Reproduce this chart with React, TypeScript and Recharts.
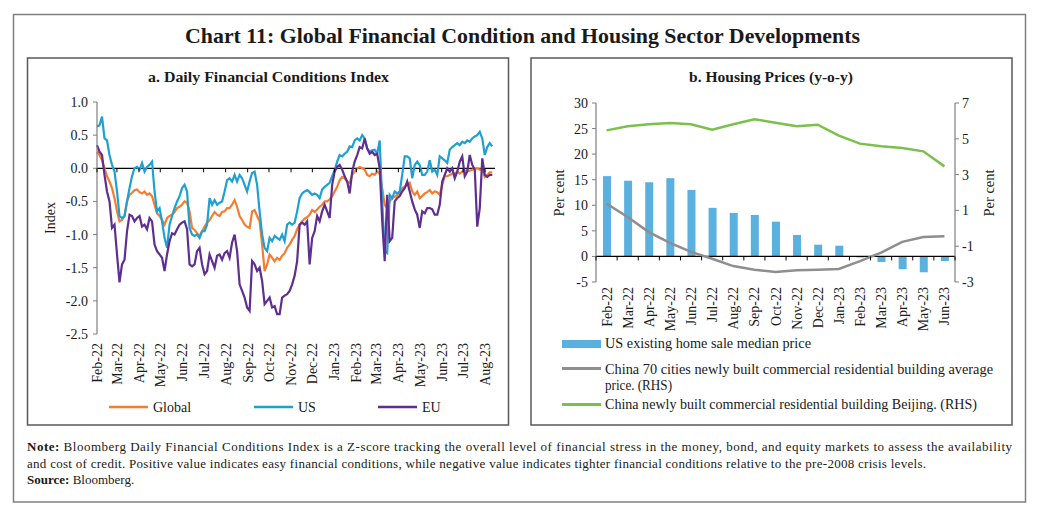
import { Bar, ComposedChart, Line, LineChart, ReferenceLine, XAxis, YAxis } from 'recharts'

const FONT = '"Liberation Serif", "Times New Roman", serif'
const TEXT = '#1a1a1a'
const AXIS = '#7f7f7f'

// a. Daily Financial Conditions Index, read off roughly twice a week from 1 Feb 2022
const fciStart = Date.UTC(2022, 1, 1)
const fciStepDays = 3.52

const globalFci = [
  0.25, 0.2, 0.12, 0.0, -0.12, -0.2, -0.3, -0.45, -0.65, -0.8, -0.78, -0.72, -0.5, -0.4, -0.37, -0.33, -0.32, -0.36, -0.38, -0.35,
  -0.4, -0.38, -0.42, -0.55, -0.68, -0.72, -0.78, -0.85, -0.75, -0.72, -0.7, -0.66, -0.6, -0.58, -0.55, -0.5, -0.52, -0.65, -0.9, -0.93,
  -0.98, -1.02, -0.95, -0.88, -0.82, -0.78, -0.72, -0.66, -0.7, -0.72, -0.66, -0.65, -0.6, -0.6, -0.55, -0.48, -0.58, -0.72, -0.78, -0.85,
  -0.88, -0.9, -0.65, -0.63, -0.72, -0.8, -1.15, -1.55, -1.45, -1.3, -1.35, -1.4, -1.35, -1.38, -1.32, -1.28, -1.2, -1.15,
  -1.08, -1.02, -0.92, -0.85, -0.8, -0.76, -0.74, -0.7, -0.63, -0.66, -0.62, -0.58, -0.55, -0.5, -0.5, -0.47, -0.42, -0.35, -0.28, -0.18,
  -0.13, -0.15, -0.2, -0.22, -0.1, -0.05, 0.0, 0.02, 0.0, -0.02, -0.1, -0.12, -0.08, -0.1, -0.05, -0.08, -0.3, -0.55,
  -0.6, -0.5, -0.45, -0.43, -0.4, -0.38, -0.3, -0.28, -0.25, -0.22, -0.35, -0.4, -0.35, -0.45, -0.42, -0.38, -0.36, -0.33, -0.38, -0.35,
  -0.36, -0.4, -0.25, -0.12, -0.12, -0.1, -0.08, -0.08, -0.05, -0.08, -0.05, -0.04, -0.03, -0.04, -0.02, -0.01, 0.0, -0.02, -0.02, -0.13,
  -0.1, -0.06, -0.06,
]

const usFci = [
  0.63, 0.65, 0.78, 0.45, 0.42, 0.2, 0.05, -0.05, -0.35, -0.72, -0.75, -0.72, -0.5, -0.3, -0.12, 0.0, 0.02, -0.02, 0.08, -0.05,
  0.02, 0.05, 0.1, -0.35, -0.65, -0.6, -0.8, -1.05, -1.2, -0.85, -0.72, -0.6, -0.5, -0.42, -0.3, -0.25, -0.35, -0.9, -1.0, -1.02,
  -1.0, -1.05, -0.95, -0.95, -0.85, -0.45, -0.55, -0.48, -0.55, -0.52, -0.5, -0.35, -0.18, -0.15, -0.2, -0.1, -0.2, -0.1, -0.15, -0.25,
  -0.35, -0.2, -0.07, -0.05, -0.25, -0.65, -1.0, -1.2, -1.25, -1.05, -1.1, -1.02, -1.05, -1.08, -1.0, -1.1, -0.85, -0.82,
  -0.85, -0.82, -0.65, -0.45, -0.38, -0.35, -0.33, -0.36, -0.4, -0.38, -0.4, -0.45, -0.32, -0.28, -0.25, -0.22, -0.12, -0.03, 0.1, 0.2,
  0.18, 0.22, 0.25, 0.33, 0.32, 0.42, 0.45, 0.42, 0.5, 0.45, 0.3, 0.25, 0.27, 0.28, 0.22, 0.42, -0.5, -1.25,
  -1.28, -0.4, -0.45, -0.35, -0.38, -0.35, -0.1, 0.18, 0.18, 0.15, -0.15, 0.05, 0.1, 0.05, -0.1, -0.1, -0.05, 0.12, -0.05, -0.02,
  -0.1, 0.18, 0.15, 0.12, 0.08, 0.28, 0.32, 0.35, 0.38, 0.35, 0.4, 0.38, 0.42, 0.4, 0.45, 0.48, 0.5, 0.55, 0.45, 0.2,
  0.32, 0.38, 0.33,
]

const euFci = [
  0.35, 0.25, 0.2, -0.1, -0.35, -0.5, -0.9, -0.85, -1.3, -1.72, -1.45, -1.38, -0.95, -0.7, -0.72, -0.8, -0.75, -0.72, -0.88, -0.85,
  -0.92, -0.75, -0.8, -1.15, -1.25, -1.3, -1.35, -1.55, -1.3, -1.1, -0.98, -1.0, -0.92, -0.85, -0.82, -0.8, -0.92, -1.45, -1.48, -1.45,
  -1.25, -1.2, -1.45, -1.6, -1.55, -1.3, -1.4, -1.5, -1.32, -1.3, -1.38, -1.28, -1.25, -1.35, -1.12, -1.0, -1.25, -1.75, -1.85, -1.95,
  -2.1, -2.15, -1.4, -1.45, -1.55, -1.5, -1.7, -2.05, -2.0, -1.95, -2.1, -2.08, -2.2, -2.2, -1.95, -1.92, -1.9, -1.85,
  -1.75, -1.62, -1.4, -0.85, -0.82, -0.85, -0.8, -1.45, -1.05, -0.95, -0.72, -0.8, -0.65, -0.55, -0.65, -0.75, -0.25, -0.05, 0.02, 0.05,
  -0.02, -0.12, -0.2, -0.38, -0.05, 0.1, 0.2, 0.32, 0.3, 0.45, 0.3, 0.22, 0.25, 0.2, 0.22, 0.0, -0.8, -1.4,
  -0.4, -1.1, -1.05, -0.5, -0.45, -0.42, -0.35, -0.3, -0.2, -0.35, -0.5, -0.62, -0.7, -0.9, -0.65, -0.68, -0.6, -0.6, -0.62, -0.7,
  -0.7, -0.55, -0.2, -0.1, 0.0, -0.05, 0.0, -0.15, -0.05, 0.1, 0.18, -0.12, -0.05, 0.2, 0.05, -0.02, -0.88, -0.6, 0.15, -0.1,
  -0.13, -0.1, -0.1,
]

const fciMonths = [
  'Feb-22', 'Mar-22', 'Apr-22', 'May-22', 'Jun-22', 'Jul-22', 'Aug-22', 'Sep-22', 'Oct-22', 'Nov-22',
  'Dec-22', 'Jan-23', 'Feb-23', 'Mar-23', 'Apr-23', 'May-23', 'Jun-23', 'Jul-23', 'Aug-23',
]
const fciYTicks = [1, 0.5, 0, -0.5, -1, -1.5, -2, -2.5]

// b. Housing Prices (y-o-y)
const housingMonths = [
  'Feb-22', 'Mar-22', 'Apr-22', 'May-22', 'Jun-22', 'Jul-22', 'Aug-22', 'Sep-22', 'Oct-22',
  'Nov-22', 'Dec-22', 'Jan-23', 'Feb-23', 'Mar-23', 'Apr-23', 'May-23', 'Jun-23',
]
const usHomePrice = [15.7, 14.8, 14.5, 15.3, 13.0, 9.5, 8.5, 8.1, 6.8, 4.2, 2.3, 2.1, -0.2, -1.1, -2.5, -3.1, -0.9]
const china70Cities = [1.38, 0.63, -0.21, -0.82, -1.32, -1.7, -2.11, -2.31, -2.44, -2.35, -2.31, -2.27, -1.83, -1.36, -0.76, -0.49, -0.45]
const beijingPrice = [5.47, 5.7, 5.81, 5.88, 5.81, 5.51, 5.81, 6.09, 5.9, 5.7, 5.79, 5.18, 4.73, 4.58, 4.49, 4.3, 3.46]
const housingLeftTicks = [-5, 0, 5, 10, 15, 20, 25, 30]
const housingRightTicks = [-3, -1, 1, 3, 5, 7]

const MONTH_INDEX: Record<string, number> = {
  Jan: 0, Feb: 1, Mar: 2, Apr: 3, May: 4, Jun: 5, Jul: 6, Aug: 7, Sep: 8, Oct: 9, Nov: 10, Dec: 11,
}
const dayOffset = (label: string) => {
  const [m, y] = label.split('-')
  return (Date.UTC(2000 + Number(y), MONTH_INDEX[m], 1) - fciStart) / 86400000
}
const fciTickDays = fciMonths.map(dayOffset)

const fciData = usFci.map((_, i) => ({
  day: i * fciStepDays,
  global: globalFci[i],
  us: usFci[i],
  eu: euFci[i],
}))

const housingData = housingMonths.map((month, i) => ({
  month,
  us: usHomePrice[i],
  china70: china70Cities[i],
  beijing: beijingPrice[i],
}))

const COLORS = {
  global: '#F47D30',
  us: '#1FA0D3',
  eu: '#5E2E91',
  bar: '#5AB0DE',
  china70: '#8E8E8E',
  beijing: '#7BC04A',
}

// plot geometry of panel a
const FCI_PLOT_H = 232
const FCI_ZERO_FROM_BOTTOM = (FCI_PLOT_H * 2.5) / 3.5

function FciTick(props: any) {
  const { x, y, payload } = props
  const label = fciMonths[fciTickDays.indexOf(payload.value)]
  const zeroY = y - FCI_ZERO_FROM_BOTTOM
  return (
    <g>
      <line x1={x} x2={x} y1={zeroY} y2={zeroY + 4} stroke="#000" strokeWidth={1} />
      <text
        transform={`translate(${x + 5},${y + 9}) rotate(-90)`}
        textAnchor="end"
        fontSize={14}
        fill={TEXT}
        fontFamily={FONT}
      >
        {label}
      </text>
    </g>
  )
}

// plot geometry of panel b
const HOUSING_PLOT_W = 359
const HOUSING_PLOT_H = 179
const HOUSING_ZERO_FROM_BOTTOM = (HOUSING_PLOT_H * 5) / 35
const HOUSING_BAND = HOUSING_PLOT_W / 17

function HousingTick(props: any) {
  const { x, y, payload, index } = props
  const zeroY = y - HOUSING_ZERO_FROM_BOTTOM
  const left = x - HOUSING_BAND / 2
  return (
    <g>
      <line x1={left} x2={left} y1={zeroY} y2={zeroY + 4} stroke="#000" strokeWidth={1} />
      {index === housingMonths.length - 1 && (
        <line x1={left + HOUSING_BAND} x2={left + HOUSING_BAND} y1={zeroY} y2={zeroY + 4} stroke="#000" strokeWidth={1} />
      )}
      <text
        transform={`translate(${x + 5},${y + 5}) rotate(-90)`}
        textAnchor="end"
        fontSize={14}
        fill={TEXT}
        fontFamily={FONT}
      >
        {payload.value}
      </text>
    </g>
  )
}

function FciChart() {
  return (
    <LineChart
      width={480}
      height={330}
      data={fciData}
      margin={{ top: 44, right: 13, bottom: 4, left: 29 }}
    >
      <XAxis
        dataKey="day"
        type="number"
        domain={[0, 560]}
        ticks={fciTickDays}
        interval={0}
        axisLine={false}
        tickLine={false}
        tickSize={0}
        tickMargin={0}
        height={50}
        tick={(p: any) => <FciTick {...p} />}
      />
      <YAxis
        domain={[-2.5, 1]}
        ticks={fciYTicks}
        interval={0}
        width={40}
        axisLine={{ stroke: AXIS, strokeWidth: 1.2 }}
        tickLine={{ stroke: AXIS }}
        tickSize={4}
        tickMargin={5}
        tickFormatter={(v: number) => v.toFixed(1)}
        tick={{ fontSize: 14, fill: TEXT, fontFamily: FONT }}
      />
      <ReferenceLine y={0} stroke="#000" strokeWidth={1.2} />
      <Line dataKey="global" stroke={COLORS.global} strokeWidth={2.2} dot={false} isAnimationActive={false} />
      <Line dataKey="us" stroke={COLORS.us} strokeWidth={2.2} dot={false} isAnimationActive={false} />
      <Line dataKey="eu" stroke={COLORS.eu} strokeWidth={2.2} dot={false} isAnimationActive={false} />
    </LineChart>
  )
}

function HousingChart() {
  return (
    <ComposedChart
      width={481}
      height={280}
      data={housingData}
      margin={{ top: 45, right: 17, bottom: 6, left: 25 }}
    >
      <XAxis
        dataKey="month"
        interval={0}
        axisLine={false}
        tickLine={false}
        tickSize={0}
        tickMargin={0}
        height={50}
        tick={(p: any) => <HousingTick {...p} />}
      />
      <YAxis
        yAxisId="left"
        domain={[-5, 30]}
        ticks={housingLeftTicks}
        interval={0}
        width={40}
        axisLine={{ stroke: AXIS, strokeWidth: 1.2 }}
        tickLine={{ stroke: AXIS }}
        tickSize={4}
        tickMargin={4}
        tick={{ fontSize: 14, fill: TEXT, fontFamily: FONT }}
      />
      <YAxis
        yAxisId="right"
        orientation="right"
        domain={[-3, 7]}
        ticks={housingRightTicks}
        interval={0}
        width={40}
        axisLine={{ stroke: AXIS, strokeWidth: 1.2 }}
        tickLine={{ stroke: AXIS }}
        tickSize={4}
        tickMargin={3}
        tick={{ fontSize: 14, fill: TEXT, fontFamily: FONT }}
      />
      <ReferenceLine yAxisId="left" y={0} stroke="#000" strokeWidth={1.2} />
      <Bar yAxisId="left" dataKey="us" fill={COLORS.bar} barSize={8} isAnimationActive={false} />
      <Line yAxisId="right" dataKey="china70" stroke={COLORS.china70} strokeWidth={2.5} dot={false} isAnimationActive={false} />
      <Line yAxisId="right" dataKey="beijing" stroke={COLORS.beijing} strokeWidth={2.5} dot={false} isAnimationActive={false} />
    </ComposedChart>
  )
}

function Overlay() {
  const t = { fontFamily: FONT, fill: TEXT }
  return (
    <svg width={1041} height={517} style={{ position: 'absolute', left: 0, top: 0 }}>
      <rect x={13.5} y={14.5} width={1012} height={487.5} fill="none" stroke="#808080" strokeWidth={1.5} />
      <rect x={27.5} y={58} width={481} height={367} fill="none" stroke="#595959" strokeWidth={1.5} />
      <rect x={531} y={58} width={481} height={367} fill="none" stroke="#595959" strokeWidth={1.5} />

      <text x={185} y={43} fontSize={21.5} fontWeight="bold" textLength={675} lengthAdjust="spacingAndGlyphs" {...t}>
        Chart 11: Global Financial Condition and Housing Sector Developments
      </text>
      <text x={148} y={82} fontSize={15.5} fontWeight="bold" textLength={241} lengthAdjust="spacingAndGlyphs" {...t}>
        a. Daily Financial Conditions Index
      </text>
      <text x={689} y={82} fontSize={15.5} fontWeight="bold" textLength={164} lengthAdjust="spacingAndGlyphs" {...t}>
        b. Housing Prices (y-o-y)
      </text>

      <text transform="translate(55,218) rotate(-90)" textAnchor="middle" fontSize={14} {...t}>
        Index
      </text>
      <text transform="translate(564,193) rotate(-90)" textAnchor="middle" fontSize={14.5} {...t}>
        Per cent
      </text>
      <text transform="translate(994,193) rotate(-90)" textAnchor="middle" fontSize={14.5} {...t}>
        Per cent
      </text>

      {[
        { x: 109, label: 'Global', color: COLORS.global },
        { x: 254, label: 'US', color: COLORS.us },
        { x: 378, label: 'EU', color: COLORS.eu },
      ].map((item) => (
        <g key={item.label}>
          <line x1={item.x} x2={item.x + 39} y1={407} y2={407} stroke={item.color} strokeWidth={2.5} />
          <text x={item.x + 44} y={411.5} fontSize={14} {...t}>
            {item.label}
          </text>
        </g>
      ))}

      <rect x={562} y={340} width={39} height={8} fill={COLORS.bar} />
      <text x={605} y={347.5} fontSize={14} textLength={206} lengthAdjust="spacingAndGlyphs" {...t}>
        US existing home sale median price
      </text>
      <line x1={562} x2={601} y1={368.5} y2={368.5} stroke={COLORS.china70} strokeWidth={3} />
      <text x={605} y={373.5} fontSize={14} textLength={388} lengthAdjust="spacingAndGlyphs" {...t}>
        China 70 cities newly built commercial residential building average
      </text>
      <text x={605} y={389.5} fontSize={14} textLength={67} lengthAdjust="spacingAndGlyphs" {...t}>
        price. (RHS)
      </text>
      <line x1={562} x2={601} y1={404.5} y2={404.5} stroke={COLORS.beijing} strokeWidth={3} />
      <text x={605} y={409} fontSize={14} textLength={372} lengthAdjust="spacingAndGlyphs" {...t}>
        China newly built commercial residential building Beijing. (RHS)
      </text>

      <text x={27} y={451} fontSize={13} textLength={985} lengthAdjust="spacing" {...t}>
        <tspan fontWeight="bold">Note:</tspan> Bloomberg Daily Financial Conditions Index is a Z-score tracking the overall
        level of financial stress in the money, bond, and equity markets to assess the availability
      </text>
      <text x={27} y={467.5} fontSize={13} textLength={899} lengthAdjust="spacing" {...t}>
        and cost of credit. Positive value indicates easy financial conditions, while negative value indicates tighter
        financial conditions relative to the pre-2008 crisis levels.
      </text>
      <text x={27} y={484} fontSize={13} {...t}>
        <tspan fontWeight="bold">Source:</tspan> Bloomberg.
      </text>
    </svg>
  )
}

export default function App() {
  return (
    <div
      style={{
        position: 'absolute',
        left: 0,
        top: 0,
        width: 1041,
        height: 517,
        background: '#fff',
        fontFamily: FONT,
        overflow: 'hidden',
      }}
    >
      <Overlay />
      <div style={{ position: 'absolute', left: 28, top: 58 }}>
        <FciChart />
      </div>
      <div style={{ position: 'absolute', left: 531, top: 58 }}>
        <HousingChart />
      </div>
    </div>
  )
}
